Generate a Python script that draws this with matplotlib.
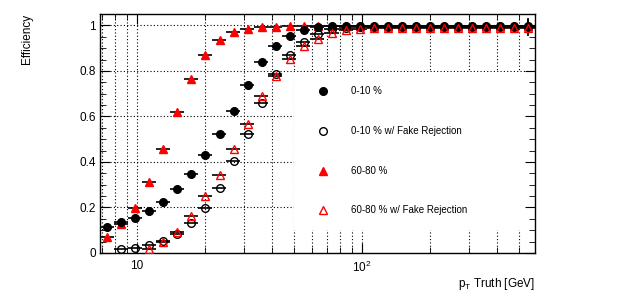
import matplotlib
matplotlib.use("Agg")
import matplotlib.pyplot as plt
from matplotlib.patches import Rectangle
import numpy as np

plt.rcParams['font.family'] = ['Liberation Sans', 'DejaVu Sans']
plt.rcParams['mathtext.fontset'] = 'custom'
plt.rcParams['mathtext.rm'] = 'Liberation Sans'
plt.rcParams['mathtext.it'] = 'Liberation Sans'

# pT bin edges [GeV] (log binning)
pt_edges = [6.85, 7.908, 9.129, 10.54, 12.17, 14.04, 16.21, 18.72, 21.61, 24.94,
            28.79, 33.24, 38.37, 44.30, 51.14, 59.03, 68.15, 78.67, 90.82, 104.8,
            121.0, 139.7, 161.3, 186.2, 215.0, 248.2, 286.5, 330.7, 381.8, 440.8,
            508.8, 587.4]

nan = float('nan')
eff_0_10 = [0.116, 0.138, 0.153, 0.185, 0.223, 0.282, 0.346, 0.432, 0.523, 0.623,
            0.736, 0.840, 0.909, 0.954, 0.981, 0.993, 0.997, 0.998, 0.998, 0.997,
            0.998, 0.998, 0.997, 0.998, 0.998, 0.997, 0.998, 0.998, 0.997, 0.998,
            0.997]
eff_0_10_fr = [nan, 0.018, 0.023, 0.035, 0.053, 0.082, 0.132, 0.197, 0.287, 0.403,
               0.522, 0.659, 0.786, 0.871, 0.929, 0.960, 0.982, 0.990, 0.992, 0.995,
               0.995, 0.995, 0.995, 0.995, 0.995, 0.995, 0.995, 0.995, 0.995, 0.995,
               0.995]
eff_60_80 = [0.072, 0.127, 0.197, 0.311, 0.456, 0.619, 0.764, 0.870, 0.935, 0.969,
             0.985, 0.991, 0.993, 0.996, 0.998, 0.998, 0.998, 0.998, 0.998, 0.998,
             0.998, 0.998, 0.998, 0.998, 0.998, 0.998, 0.998, 0.998, 0.998, 0.998,
             0.998]
eff_60_80_fr = [nan, nan, nan, 0.018, 0.049, 0.093, 0.163, 0.249, 0.342, 0.456,
                0.568, 0.688, 0.779, 0.852, 0.910, 0.938, 0.967, 0.980, 0.984, 0.988,
                0.988, 0.988, 0.988, 0.988, 0.988, 0.988, 0.988, 0.988, 0.988, 0.988,
                0.988]
err_last_bin = 0.033

labels = ['0-10 %', '0-10 % w/ Fake Rejection', '60-80 %', '60-80 % w/ Fake Rejection']

x_major = [10, 100]
x_major_labels = ['10', r'$\mathregular{10^{2}}$']
x_minor = [7, 8, 9, 20, 30, 40, 50, 60, 70, 80, 90, 200, 300, 400, 500]
y_major = [0, 0.2, 0.4, 0.6, 0.8, 1.0]
y_major_labels = ['0', '0.2', '0.4', '0.6', '0.8', '1']

edges = np.array(pt_edges)
centers = 0.5 * (edges[:-1] + edges[1:])
xerr = [centers - edges[:-1], edges[1:] - centers]
yerr = np.zeros(len(centers))
yerr[-1] = err_last_bin

fig = plt.figure(figsize=(6.3, 3.01), dpi=100)
ax = fig.add_axes([0.1587, 0.1595, 0.6905, 0.794])
ax.set_xscale('log')
ax.set_xlim(edges[0], edges[-1])
ax.set_ylim(0, 1.05)

# ROOT-style dotted grid
grid_style = dict(color='black', lw=0.8, linestyle=(0, (1, 2)), zorder=0.5)
ax.vlines(x_major + x_minor, 0, 1, transform=ax.get_xaxis_transform(), **grid_style)
ax.hlines(y_major[1:], 0, 1, transform=ax.get_yaxis_transform(), **grid_style)

# legend pad (white box hiding the grid)
ax.add_patch(Rectangle((50, 0.1), edges[-1] - 50, 0.695, facecolor='white',
                       edgecolor='none', zorder=1))

common = dict(xerr=xerr, yerr=yerr, ls='none', ecolor='black', elinewidth=1.2,
              capsize=0, zorder=3)
ax.errorbar(centers, eff_60_80, marker='^', ms=6, mfc='red', mec='red', **common)
ax.errorbar(centers, eff_0_10, marker='o', ms=5.5, mfc='black', mec='black', **common)
ax.errorbar(centers, eff_0_10_fr, marker='o', ms=5.5, mfc='none', mec='black', mew=1, **common)
ax.errorbar(centers, eff_60_80_fr, marker='^', ms=6, mfc='none', mec='red', mew=1, **common)

ax.set_xticks(x_major)
ax.set_xticklabels(x_major_labels)
ax.set_xticks(x_minor, minor=True)
ax.set_xticklabels([], minor=True)
ax.set_yticks(y_major)
ax.set_yticklabels(y_major_labels)
ax.set_yticks(np.arange(0, 1.051, 0.05), minor=True)

ax.tick_params(which='both', direction='in', top=True, right=True, labelsize=8.5)
ax.tick_params(axis='x', which='major', length=7, pad=5)
ax.tick_params(axis='x', which='minor', length=4)
ax.tick_params(axis='y', which='major', length=7, pad=3)
ax.tick_params(axis='y', which='minor', length=4)
for s in ax.spines.values():
    s.set_linewidth(1.0)

# legend entries
leg_marks = [dict(marker='o', ms=5.5, mfc='black', mec='black'),
             dict(marker='o', ms=5.5, mfc='none', mec='black'),
             dict(marker='^', ms=6, mfc='red', mec='red'),
             dict(marker='^', ms=6, mfc='none', mec='red')]
leg_y = [0.678, 0.510, 0.344, 0.180]
for lab, mk, yy in zip(labels, leg_marks, leg_y):
    ax.plot([0.512], [yy], transform=ax.transAxes, ls='none', zorder=4, **mk)
    ax.text(0.577, yy, lab, transform=ax.transAxes, fontsize=7, va='center', ha='left', zorder=4)

fig.text(27 / 630, 1 - 14 / 301, 'Efficiency', rotation=90, ha='center', va='top', fontsize=8.5)
fig.text(535 / 630, 1 - 284 / 301, r'$\mathregular{p_{T}}$ Truth [GeV]', ha='right', va='center',
         fontsize=8.5)

fig.savefig('out.png', dpi=100)
